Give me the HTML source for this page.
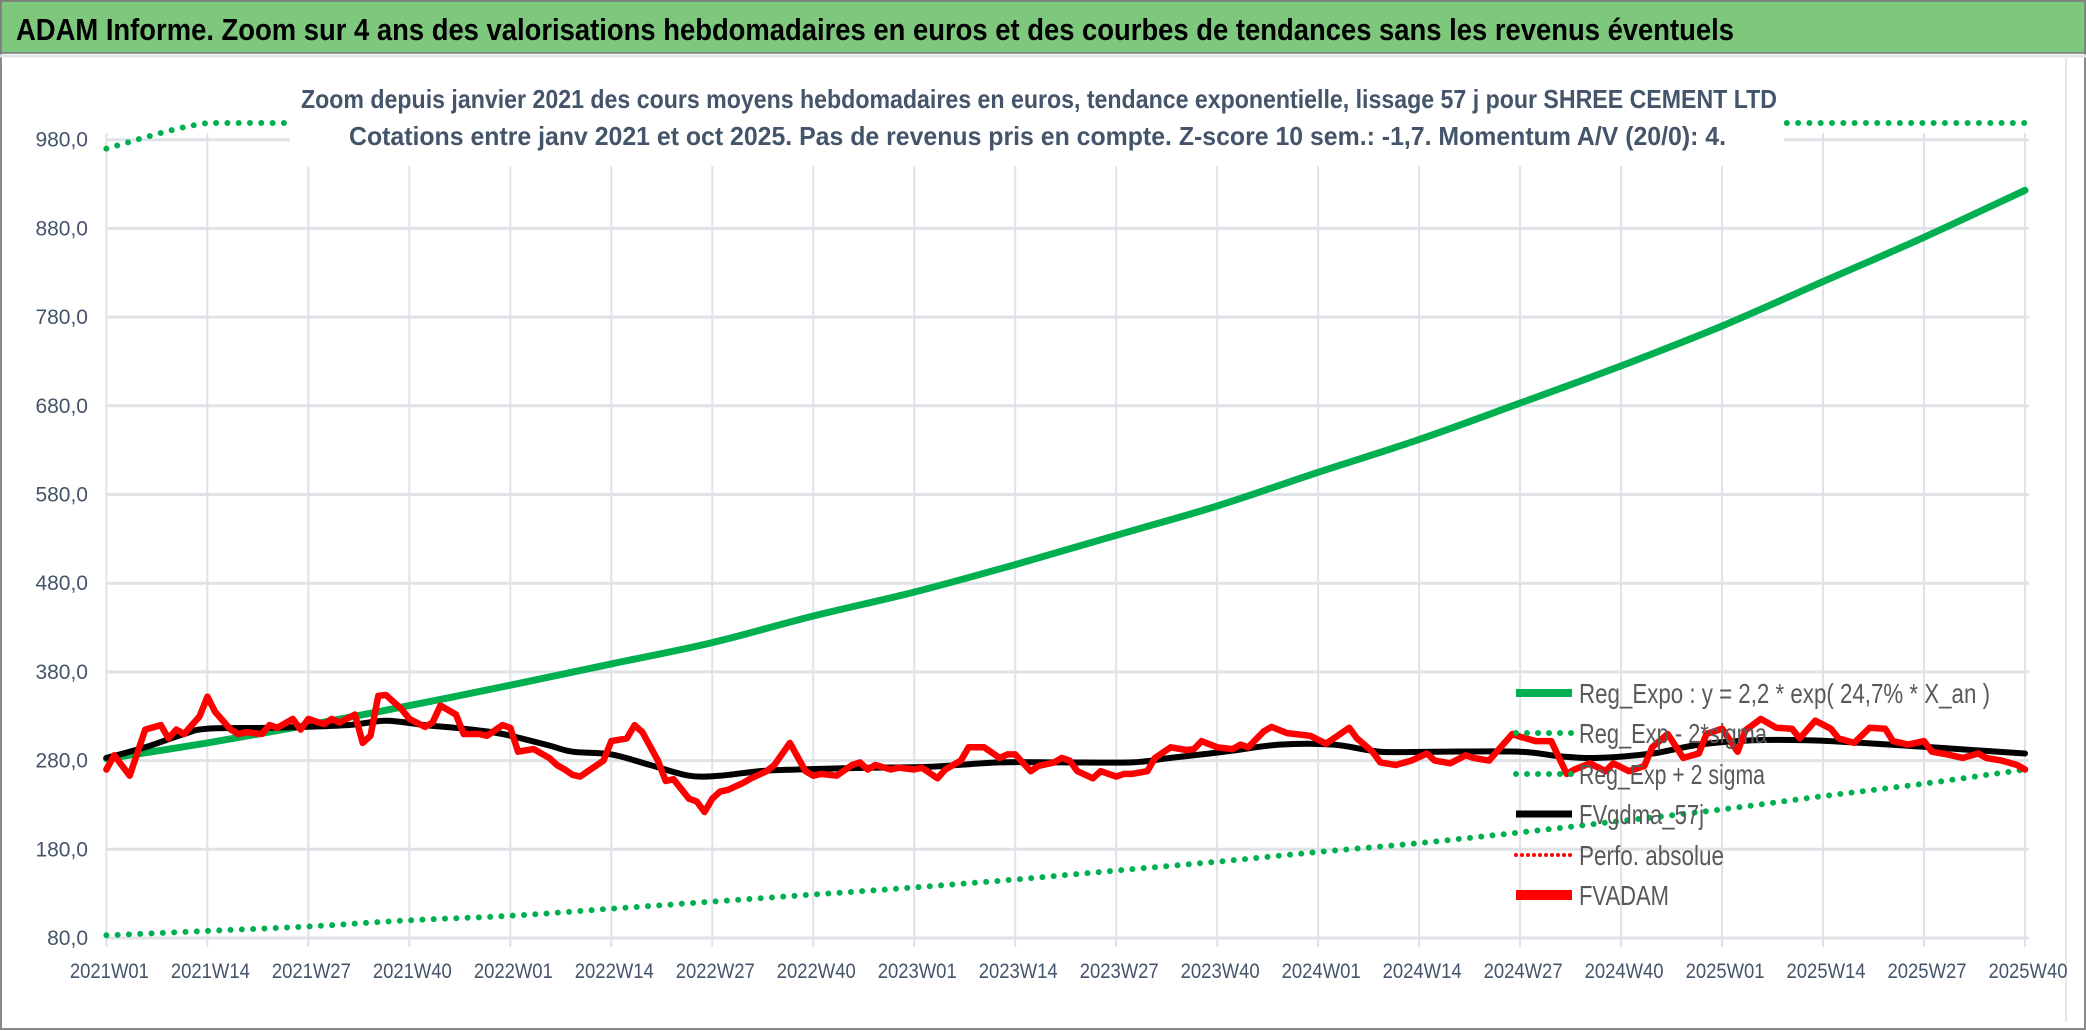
<!DOCTYPE html>
<html><head><meta charset="utf-8">
<style>
html,body{margin:0;padding:0;background:#fff;}
svg{display:block;}
text{font-family:"Liberation Sans Narrow","Liberation Sans",sans-serif;}
</style></head>
<body>
<svg id="chart" width="2086" height="1031" viewBox="0 0 2086 1031" xmlns="http://www.w3.org/2000/svg">
  <rect x="0" y="0" width="2086" height="1031" fill="#fff"/>
  <rect x="1" y="1" width="2084" height="1028" fill="none" stroke="#8a8a8a" stroke-width="2"/>
  <rect x="1" y="1" width="2084" height="52" fill="#7ec87e" stroke="#7a7a7a" stroke-width="1.5"/>
  <line x1="0" y1="56" x2="2086" y2="56" stroke="#e3e5ea" stroke-width="3"/>
  <text x="16" y="40" font-size="31" font-weight="bold" fill="#000" textLength="1718" lengthAdjust="spacingAndGlyphs">ADAM Informe. Zoom sur 4 ans des valorisations hebdomadaires en euros et des courbes de tendances sans les revenus éventuels</text>
  <line x1="2066" y1="58" x2="2066" y2="1022" stroke="#e6e6e6" stroke-width="2"/>
  <g id="grid"></g>
  <g id="series"></g>
  <rect x="290" y="62" width="1494" height="104" fill="#fff"/>
  <text x="301" y="108" font-size="26" font-weight="bold" fill="#44546a" textLength="1476" lengthAdjust="spacingAndGlyphs">Zoom depuis janvier 2021 des cours moyens hebdomadaires en euros, tendance exponentielle, lissage 57 j pour SHREE CEMENT LTD</text>
  <text x="349" y="145" font-size="26" font-weight="bold" fill="#44546a" textLength="1377" lengthAdjust="spacingAndGlyphs">Cotations entre janv 2021 et oct 2025. Pas de revenus pris en compte. Z-score 10 sem.: -1,7. Momentum A/V (20/0): 4.</text>
  <g id="axes"></g>
  <g id="legend"></g>
</svg>
<script>
const xLabels = ["2021W01","2021W14","2021W27","2021W40","2022W01","2022W14","2022W27","2022W40","2023W01","2023W14","2023W27","2023W40","2024W01","2024W14","2024W27","2024W40","2025W01","2025W14","2025W27","2025W40"];
const yTicks = [80,180,280,380,480,580,680,780,880,980];
const yTickLabels = ["80,0","180,0","280,0","380,0","480,0","580,0","680,0","780,0","880,0","980,0"];
// trend lines, sampled at each 13-week label
const expoVals = [282,300,320,342,365,389,413,443,470,501,534,567,605,642,683,725,770,820,870,923];
const lowVals = [83,88,93,100,105,113,121,129,137,146,156,166,177,187,199,212,225,240,254,270];
const highVals = [970,1032,1100,1176,1255,1340,1420,1520,1610,1720,1830,1950,2080,2210,2350,2490,2650,2820,2990,3170];
// FVADAM weekly prices (week index, value)
const adamWeeks = [0,1,3,5,7,8,9,10,12,13,14,16,17,18,20,21,22,24,25,26,28,29,30,32,33,34,35,36,38,39,41,42,43,45,46,48,49,51,52,53,55,57,58,59,60,61,62,64,65,67,68,69,71,72,73,75,76,77,78,79,80,82,83,85,86,88,90,91,92,94,96,97,98,99,101,102,104,105,107,108,110,111,113,115,116,117,119,120,122,123,124,125,127,128,130,131,132,134,135,137,139,140,141,143,145,146,147,149,150,152,153,155,157,158,160,161,163,164,166,168,170,171,173,175,176,178,179,181,182,184,186,188,189,191,193,194,196,198,199,201,203,205,206,208,210,211,213,215,217,218,220,222,223,225,227,229,230,232,234,235,237,239,241,242,244,246,247];
const adamVals = [270,286,263,315,320,305,315,310,330,352,335,315,310,312,310,320,317,327,315,327,321,327,323,332,300,308,353,354,338,327,318,323,342,332,310,310,308,320,317,290,293,283,275,270,264,262,268,280,302,305,320,312,280,257,259,237,234,222,237,245,247,255,260,268,275,300,268,263,265,263,275,278,270,275,270,272,270,272,260,270,280,295,295,283,287,287,268,274,278,283,280,268,260,268,262,265,265,268,283,295,292,293,302,295,293,298,295,313,318,311,310,308,299,305,317,305,290,278,275,280,288,280,277,286,283,280,290,310,307,302,302,265,270,277,268,277,268,274,295,310,283,288,310,316,290,314,327,317,316,305,325,316,305,300,317,316,302,298,302,290,287,283,288,283,280,275,270];
// FVgdma 57j smoothed
const gdmaWeeks = [0,5,10,13,21,31,36,41,46,51,57,60,65,70,75,79,84,89,98,106,115,123,132,137,144,151,158,164,171,182,187,192,199,205,212,219,226,235,247];
const gdmaVals = [283,295,310,316,317,320,325,320,316,310,297,290,287,275,263,263,268,270,272,273,278,278,278,283,290,298,298,290,290,290,285,283,288,298,303,303,300,295,288];

const NS="http://www.w3.org/2000/svg";
const X0=106.4, X1=2025, TOTALW=247, YV0=80, YP0=938, YV1=980, YP1=139.7, PTOP=123;
function xw(w){return X0+(X1-X0)*w/TOTALW;}
function yv(v){return YP0+(v-YV0)*(YP1-YP0)/(YV1-YV0);}
function mk(tag,attrs,parent){const e=document.createElementNS(NS,tag);for(const k in attrs)e.setAttribute(k,attrs[k]);parent.appendChild(e);return e;}

const grid=document.getElementById('grid');
const axes=document.getElementById('axes');
const series=document.getElementById('series');
const legend=document.getElementById('legend');

yTicks.forEach((v,i)=>{
  const l=mk('line',{x1:X0,x2:X1+4,y1:yv(v),y2:yv(v),stroke:'#dfe2e7','stroke-width':3},grid);
  
  
  const t=mk('text',{x:88,y:yv(v)+7,'font-size':21,fill:'#44546a','text-anchor':'end'},axes);
  t.textContent=yTickLabels[i];
  
  
});
xLabels.forEach((lab,i)=>{
  const x=xw(i*13);
  const l=mk('line',{x1:x,x2:x,y1:PTOP+10,y2:YP0+9,stroke:'#dfe2e7','stroke-width':2},grid);
  
  
  const t=mk('text',{x:x+3,y:978,'font-size':21,fill:'#44546a','text-anchor':'middle',textLength:79,lengthAdjust:'spacingAndGlyphs'},axes);
  t.textContent=lab;
  
  
});

function pts(ws,vs,clamp){return ws.map((w,i)=>{let y=yv(vs[i]);if(clamp&&y<PTOP)y=PTOP;return [xw(w),y];});}
function path(ws,vs,clamp){return pts(ws,vs,clamp).map((p,i)=>(i?'L':'M')+p[0].toFixed(1)+','+p[1].toFixed(1)).join(' ');}
function smooth(ws,vs,clamp){
  const p=pts(ws,vs,clamp);let d='M'+p[0][0].toFixed(1)+','+p[0][1].toFixed(1);
  for(let i=0;i<p.length-1;i++){
    const p0=p[i-1]||p[i],p1=p[i],p2=p[i+1],p3=p[i+2]||p2;
    const c1=[p1[0]+(p2[0]-p0[0])/6,p1[1]+(p2[1]-p0[1])/6];
    const c2=[p2[0]-(p3[0]-p1[0])/6,p2[1]-(p3[1]-p1[1])/6];
    if(clamp){c1[1]=Math.max(c1[1],PTOP);c2[1]=Math.max(c2[1],PTOP);}
    d+=' C'+c1[0].toFixed(1)+','+c1[1].toFixed(1)+' '+c2[0].toFixed(1)+','+c2[1].toFixed(1)+' '+p2[0].toFixed(1)+','+p2[1].toFixed(1);
  }
  return d;
}
const qWeeks=expoVals.map((_,i)=>i*13);
const g=mk('g',{},series);
const pHigh=mk('path',{d:smooth(qWeeks,highVals,true),fill:'none',stroke:'#00b050','stroke-width':6,'stroke-linecap':'round','stroke-dasharray':'0 11.3'},g);


const pLow=mk('path',{d:smooth(qWeeks,lowVals),fill:'none',stroke:'#00b050','stroke-width':6,'stroke-linecap':'round','stroke-dasharray':'0 11.3'},g);


const pExpo=mk('path',{d:smooth(qWeeks,expoVals),fill:'none',stroke:'#00b050','stroke-width':7,'stroke-linecap':'round','stroke-linejoin':'round'},g);


const pG=mk('path',{d:smooth(gdmaWeeks,gdmaVals),fill:'none',stroke:'#000','stroke-width':6,'stroke-linejoin':'round','stroke-linecap':'round'},g);


const pA=mk('path',{d:path(adamWeeks,adamVals),fill:'none',stroke:'#ff0000','stroke-width':6.5,'stroke-linejoin':'round','stroke-linecap':'round'},g);



const legItems=[
 {label:'Reg_Expo : y = 2,2 * exp( 24,7% *  X_an )',color:'#00b050',dash:null,w:8,y:693,tl:411},
 {label:'Reg_Exp - 2*sigma',color:'#00b050',dash:'0 11',w:6,y:733,tl:188},
 {label:'Reg_Exp + 2 sigma',color:'#00b050',dash:'0 11',w:6,y:774,tl:186},
 {label:'FVgdma_57j',color:'#000',dash:null,w:7,y:814,tl:125},
 {label:'Perfo. absolue',color:'#ff0000',dash:'0 6',w:4,y:855,tl:145},
 {label:'FVADAM',color:'#ff0000',dash:null,w:10,y:895,tl:90}
];
legItems.forEach(it=>{
  const gi=mk('g',{},legend);
  
  
  const a={x1:1516,x2:1572,y1:it.y,y2:it.y,stroke:it.color,'stroke-width':it.w,'stroke-linecap':it.dash?'round':'butt'};
  if(it.dash)a['stroke-dasharray']=it.dash;
  const l=mk('line',a,gi);
  
  
  const t=mk('text',{x:1579,y:it.y+10,'font-size':28,fill:'#595959',textLength:it.tl,lengthAdjust:'spacingAndGlyphs'},gi);
  t.textContent=it.label;
  
  
});
</script>
</body></html>
